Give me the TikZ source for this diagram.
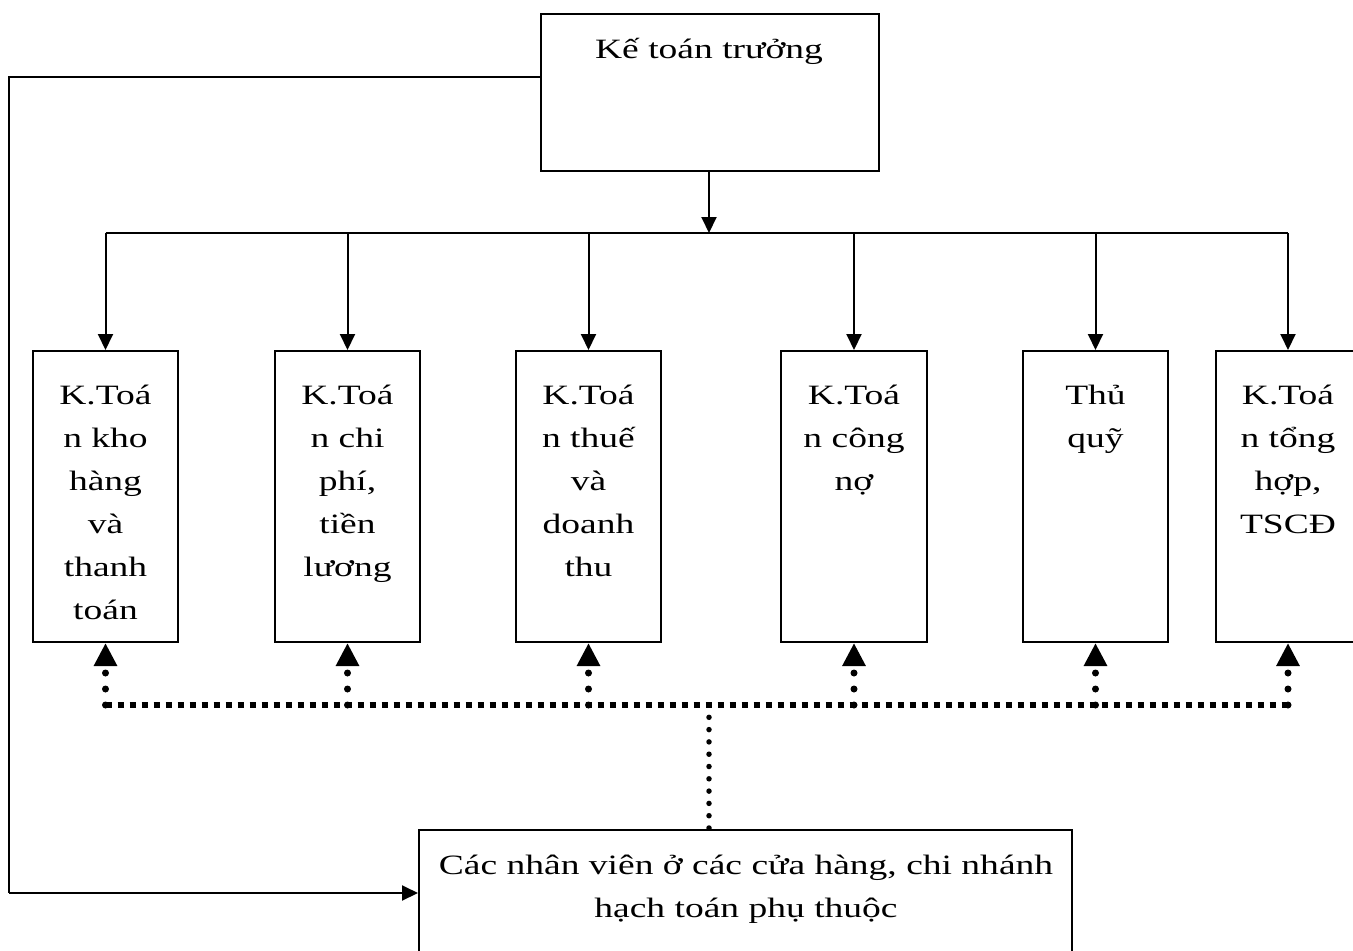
\documentclass[tikz,border=0pt]{standalone}
\usepackage{fontspec}
\setmainfont{Liberation Serif}[FakeStretch=1.34]
\usetikzlibrary{arrows.meta}

% multi-line label whose reference point is the first baseline
\newcommand\linestack[1]{\begin{tabular}[t]{@{}c@{}}#1\end{tabular}}

\begin{document}
\begin{tikzpicture}[x=1pt,y=-1pt,
  box/.style={draw=black,line width=2pt,rectangle,inner sep=0pt,fill=none},
  txt/.style={anchor=base,inner sep=0pt,font=\fontsize{28}{43}\selectfont},
  solidarrow/.style={line width=2pt,-{Triangle[width=15pt,length=16pt]}},
  solidline/.style={line width=2pt},
  dotarrow/.style={line width=7pt,line cap=round,dash pattern=on 0pt off 16pt,
                   -{Triangle[width=22pt,length=23pt]}},
  squaredots/.style={line width=6pt,dash pattern=on 6pt off 6pt},
  smalldots/.style={line width=5.5pt,line cap=round,dash pattern=on 0pt off 12.3pt}]

\useasboundingbox (0,0) rectangle (1353,951);
\clip (0,0) rectangle (1353,951);

% chief accountant
\node[box,minimum width=338pt,minimum height=157pt] (chief) at (710,92.5) {};
\node[txt] (chieft) at (709,58) {Kế toán trưởng};

% six accounting sections
\node[box,minimum width=145pt,minimum height=291pt] (k1) at (105.5,496.5) {};
\node[box,minimum width=145pt,minimum height=291pt] (k2) at (347.5,496.5) {};
\node[box,minimum width=145pt,minimum height=291pt] (k3) at (588.5,496.5) {};
\node[box,minimum width=146pt,minimum height=291pt] (k4) at (854,496.5) {};
\node[box,minimum width=145pt,minimum height=291pt] (k5) at (1095.5,496.5) {};
\node[box,minimum width=144pt,minimum height=291pt] (k6) at (1288,496.5) {};

\node[txt] (k1t) at (105.5,404) {\linestack{K.Toá\\n kho\\hàng\\và\\thanh\\toán}};
\node[txt] (k2t) at (347.5,404) {\linestack{K.Toá\\n chi\\phí,\\tiền\\lương}};
\node[txt] (k3t) at (588.5,404) {\linestack{K.Toá\\n thuế\\và\\doanh\\thu}};
\node[txt] (k4t) at (854,404) {\linestack{K.Toá\\n công\\nợ}};
\node[txt] (k5t) at (1095.5,404) {\linestack{Thủ\\quỹ}};
\node[txt] (k6t) at (1288,404) {\linestack{K.Toá\\n tổng\\hợp,\\TSCĐ}};

% staff at shops and branches
\node[box,minimum width=653pt,minimum height=150pt] (staff) at (745.5,905) {};
\node[txt] (stafft1) at (746,874) {Các nhân viên ở các cửa hàng, chi nhánh};
\node[txt] (stafft2) at (746,917) {hạch toán phụ thuộc};

% solid distribution bus
\coordinate (bus) at (709,233);
\coordinate (b1) at (105.5,233);
\coordinate (b2) at (347.5,233);
\coordinate (b3) at (588.5,233);
\coordinate (b4) at (854,233);
\coordinate (b5) at (1095.5,233);
\coordinate (b6) at (1288,233);

\draw[solidarrow] (chief.south -| bus) -- (bus);
\draw[solidline] (b1) -- (b6);
\foreach \i in {1,...,6} \draw[solidarrow] (b\i) -- (k\i.north);

% direct line from the chief to the staff
\coordinate (lt) at (9,77);
\coordinate (lb) at (9,893);
\draw[solidline] (chief.west |- lt) -- (lt) -- (lb);
\draw[solidarrow] (lb) -- (staff.west |- lb);

% dotted reporting lines
\coordinate (dbus) at (709,705);
\coordinate (d1) at (105.5,705);
\coordinate (d2) at (347.5,705);
\coordinate (d3) at (588.5,705);
\coordinate (d4) at (854,705);
\coordinate (d5) at (1095.5,705);
\coordinate (d6) at (1288,705);

\draw[squaredots] (d1) -- (d6);
\foreach \i in {1,...,6} \draw[dotarrow] (d\i) -- (k\i.south);
\draw[smalldots] (dbus) -- (staff.north -| dbus);

\end{tikzpicture}
\end{document}
